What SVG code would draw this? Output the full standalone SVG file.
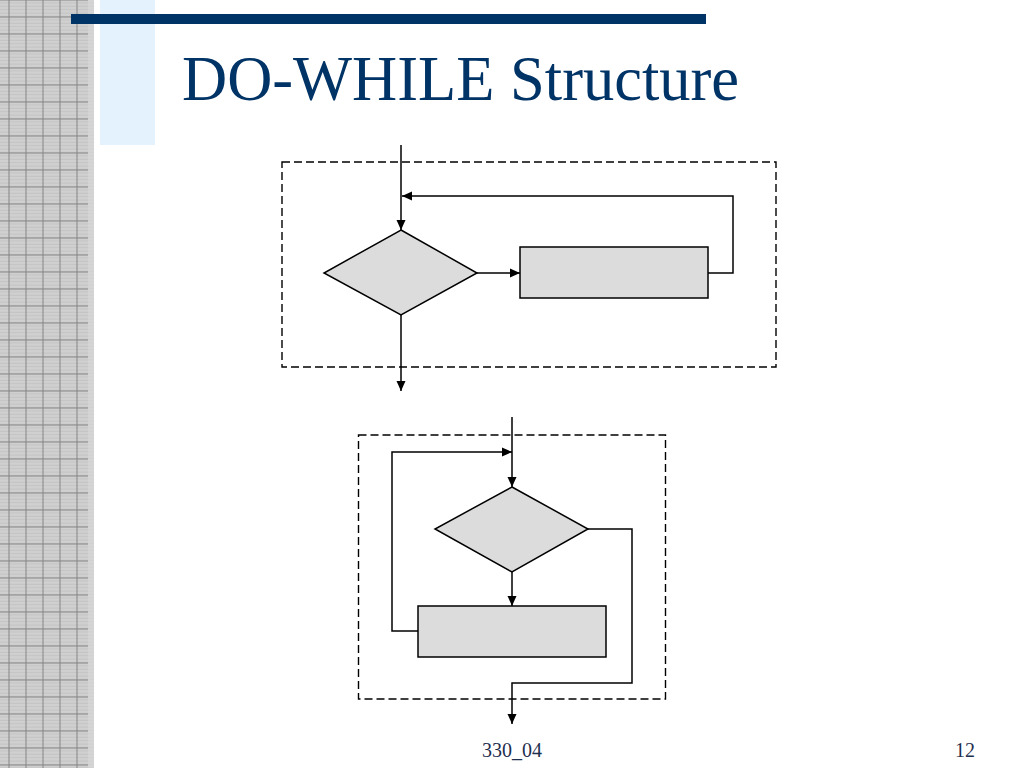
<svg xmlns="http://www.w3.org/2000/svg" width="1024" height="768" viewBox="0 0 1024 768">
<style>
.ln{fill:none;stroke:#000;stroke-width:1.5}
.dash{fill:none;stroke:#000;stroke-width:1.4;stroke-dasharray:8,4}
.shape{fill:#dcdcdc;stroke:#000;stroke-width:1.5}
.title{font-family:"Liberation Serif","Times New Roman",serif;font-size:62.5px;fill:#003366}
.foot{font-family:"Liberation Serif","Times New Roman",serif;font-size:20px;fill:#1f2f4f}
</style>
<defs>
<pattern id="fine" width="17" height="3.4" patternUnits="userSpaceOnUse">
<rect width="17" height="3.4" fill="#d0d0d0"/>
<rect y="2.4" width="17" height="1" fill="#c3c3c3"/>
</pattern>
<pattern id="grid" x="8.5" y="16.5" width="17" height="17" patternUnits="userSpaceOnUse">
<rect x="0" y="0" width="17" height="1" fill="#858585"/>
<rect x="0" y="0" width="1" height="17" fill="#858585"/>
</pattern>
<marker id="ah" viewBox="0 0 10 10" refX="10" refY="5" markerWidth="10" markerHeight="10" markerUnits="userSpaceOnUse" orient="auto">
<path d="M0,0.5 L10,5 L0,9.5 Z" fill="#000"/>
</marker>
</defs>
<rect width="1024" height="768" fill="#fff"/>
<g id="sidebar">
<rect x="0" y="0" width="94" height="768" fill="url(#fine)"/>
<rect x="0" y="0" width="88" height="768" fill="url(#grid)"/>
<rect x="88" y="0" width="6" height="768" fill="#d8d8d8" opacity="0.6"/>
</g>
<rect x="100" y="0" width="55" height="145" fill="#e4f2fd"/>
<rect x="71" y="14" width="635" height="10" fill="#003366"/>
<text class="title" x="182" y="100">DO-WHILE Structure</text>

<g id="frames">
<rect class="dash" x="282" y="162" width="494" height="205"/>
<rect class="dash" x="358.5" y="435" width="307" height="264"/>
</g>

<g id="top-decision"><polygon class="shape" points="401,230 477,273 401,315 324,273"/></g>
<g id="top-process"><rect class="shape" x="520" y="247" width="188" height="51"/></g>
<g id="bottom-decision"><polygon class="shape" points="512,487 588,529 512,572 435,529"/></g>
<g id="bottom-process"><rect class="shape" x="418" y="606" width="188" height="51"/></g>

<g id="connectors">
<line class="ln" x1="401" y1="145" x2="401" y2="230" marker-end="url(#ah)"/>
<polyline class="ln" points="708,273 733,273 733,196 402,196" marker-end="url(#ah)"/>
<line class="ln" x1="477" y1="273" x2="520" y2="273" marker-end="url(#ah)"/>
<line class="ln" x1="401" y1="315" x2="401" y2="391" marker-end="url(#ah)"/>

<line class="ln" x1="512" y1="417" x2="512" y2="487" marker-end="url(#ah)"/>
<polyline class="ln" points="418,631 392,631 392,452 512,452" marker-end="url(#ah)"/>
<line class="ln" x1="512" y1="572" x2="512" y2="606" marker-end="url(#ah)"/>
<polyline class="ln" points="588,529 632,529 632,683 512,683 512,724" marker-end="url(#ah)"/>
</g>

<text class="foot" x="512" y="757" text-anchor="middle">330_04</text>
<text class="foot" x="975" y="757" text-anchor="end">12</text>
</svg>
